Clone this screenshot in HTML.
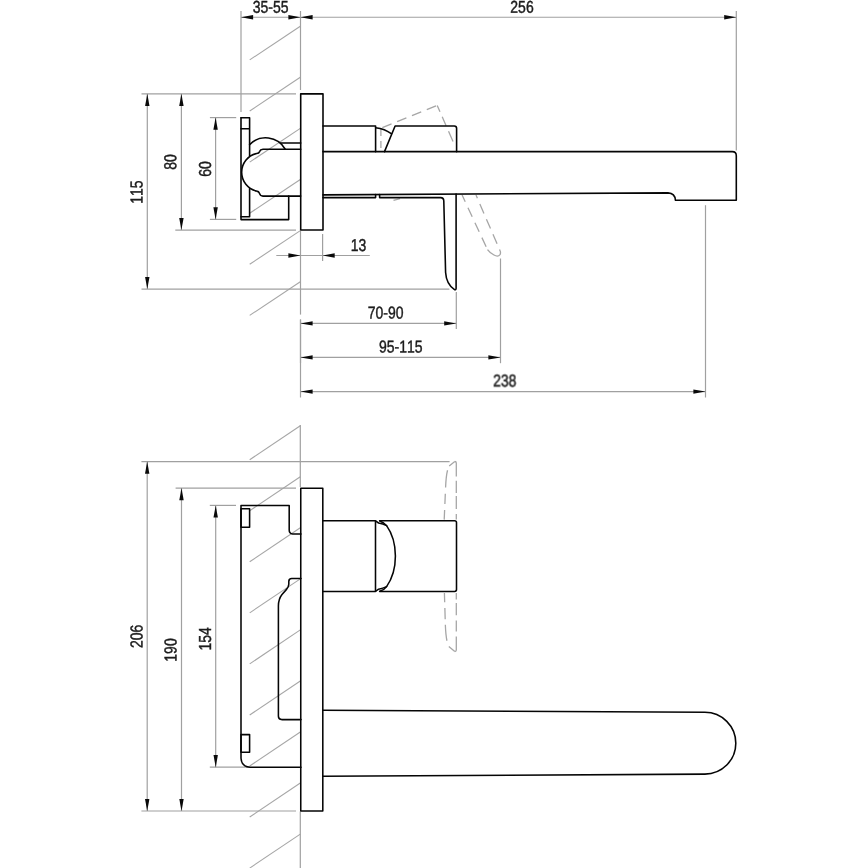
<!DOCTYPE html>
<html lang="en">
<head>
<meta charset="utf-8">
<title>Wall-mounted basin mixer – dimensional drawing</title>
<style>
html,body{margin:0;padding:0;background:#fff;}
body{width:868px;height:868px;overflow:hidden;}
svg{display:block;}
.t{font-family:"Liberation Sans",sans-serif;font-size:17.4px;fill:#1a1a1a;stroke:#1a1a1a;stroke-width:0.45;font-kerning:none;letter-spacing:0;text-rendering:geometricPrecision;}
.th{font-size:17.2px;}
.h{stroke:#a6a6a6;stroke-width:1.1;fill:none;}
.d{stroke:#a0a0a0;stroke-width:1.2;fill:none;}
.ar{fill:#0a0a0a;stroke:none;}
.ds{stroke:#a6a6a6;stroke-width:1.3;fill:none;stroke-dasharray:10 5;}
.main .m{stroke:#050505;stroke-width:1.58;fill:none;stroke-linejoin:round;stroke-linecap:round;}
.main2 .m{stroke:#050505;stroke-width:1.55;fill:none;stroke-linejoin:round;stroke-linecap:round;}
</style>
</head>
<body>
<svg width="868" height="868" viewBox="0 0 868 868" role="img" aria-label="Dimensional drawing of a wall-mounted basin mixer">
<rect x="0" y="0" width="868" height="868" fill="#ffffff"/>
<g class="hatch">
<line class="h" x1="249.7" y1="59.9" x2="300.3" y2="26.2"/>
<line class="h" x1="249.7" y1="111.0" x2="300.3" y2="77.3"/>
<line class="h" x1="249.7" y1="162.1" x2="300.3" y2="128.4"/>
<line class="h" x1="249.7" y1="213.2" x2="300.3" y2="179.5"/>
<line class="h" x1="249.7" y1="264.3" x2="300.3" y2="230.6"/>
<line class="h" x1="249.7" y1="315.4" x2="300.3" y2="281.7"/>
<line class="h" x1="249.7" y1="459.7" x2="300.3" y2="425.7"/>
<line class="h" x1="249.7" y1="510.75" x2="300.3" y2="476.75"/>
<line class="h" x1="249.7" y1="561.8" x2="300.3" y2="527.8"/>
<line class="h" x1="249.7" y1="612.85" x2="300.3" y2="578.85"/>
<line class="h" x1="249.7" y1="663.9" x2="300.3" y2="629.9"/>
<line class="h" x1="249.7" y1="714.95" x2="300.3" y2="680.95"/>
<line class="h" x1="249.7" y1="766.0" x2="300.3" y2="732.0"/>
<line class="h" x1="249.7" y1="817.05" x2="300.3" y2="783.05"/>
<line class="h" x1="249.7" y1="868.1" x2="300.3" y2="834.1"/>
</g>
<g class="dim">
<line class="d" x1="300.5" y1="11" x2="300.5" y2="90"/>
<line class="d" x1="300.5" y1="231" x2="300.5" y2="314.6"/>
<line class="d" x1="300.5" y1="319.5" x2="300.5" y2="397.5"/>
<line class="d" x1="300.5" y1="319.5" x2="300.5" y2="363.2"/>
<line class="d" x1="241" y1="11" x2="241" y2="112"/>
<line class="d" x1="241" y1="17.25" x2="300.5" y2="17.25"/>
<line class="d" x1="300.5" y1="17.25" x2="736.3" y2="17.25"/>
<line class="d" x1="736.3" y1="11" x2="736.3" y2="150.4"/>
<line class="d" x1="141.5" y1="93.8" x2="296" y2="93.8"/>
<line class="d" x1="147.3" y1="93.8" x2="147.3" y2="289.1"/>
<line class="d" x1="181.4" y1="93.8" x2="181.4" y2="230.1"/>
<line class="d" x1="215.6" y1="117.6" x2="215.6" y2="219.4"/>
<line class="d" x1="209.9" y1="117.6" x2="236.2" y2="117.6"/>
<line class="d" x1="209.9" y1="219.4" x2="236.2" y2="219.4"/>
<line class="d" x1="175.3" y1="230.1" x2="296" y2="230.1"/>
<line class="d" x1="141.5" y1="289.1" x2="449.4" y2="289.1"/>
<line class="d" x1="276.3" y1="255.5" x2="369.8" y2="255.5"/>
<line class="d" x1="322.6" y1="234" x2="322.6" y2="261"/>
<line class="d" x1="300.5" y1="323.4" x2="456.3" y2="323.4"/>
<line class="d" x1="456.3" y1="292" x2="456.3" y2="329"/>
<line class="d" x1="300.5" y1="357.4" x2="500.5" y2="357.4"/>
<line class="d" x1="500.5" y1="258.5" x2="500.5" y2="363.2"/>
<line class="d" x1="300.5" y1="391.6" x2="705.5" y2="391.6"/>
<line class="d" x1="705.5" y1="205.2" x2="705.5" y2="397.5"/>
<line class="d" x1="300.3" y1="425" x2="300.3" y2="487"/>
<line class="d" x1="300.3" y1="811.5" x2="300.3" y2="868"/>
<line class="d" x1="141.4" y1="461.55" x2="449.6" y2="461.55"/>
<line class="d" x1="175.6" y1="488.1" x2="296" y2="488.1"/>
<line class="d" x1="209.8" y1="505.4" x2="236" y2="505.4"/>
<line class="d" x1="209.8" y1="767.2" x2="250" y2="767.2"/>
<line class="d" x1="141.4" y1="811" x2="296" y2="811"/>
<line class="d" x1="147.2" y1="461.55" x2="147.2" y2="811"/>
<line class="d" x1="181.5" y1="488.1" x2="181.5" y2="811"/>
<line class="d" x1="215.7" y1="505.4" x2="215.7" y2="767.2"/>
</g>
<g>
<polygon class="ar" points="241.00,17.25 253.10,15.05 253.10,19.45"/>
<polygon class="ar" points="300.50,17.25 288.40,15.05 288.40,19.45"/>
<polygon class="ar" points="300.50,17.25 312.60,15.05 312.60,19.45"/>
<polygon class="ar" points="736.30,17.25 724.20,15.05 724.20,19.45"/>
<polygon class="ar" points="147.30,93.80 145.10,105.90 149.50,105.90"/>
<polygon class="ar" points="147.30,289.10 145.10,277.00 149.50,277.00"/>
<polygon class="ar" points="181.40,93.80 179.20,105.90 183.60,105.90"/>
<polygon class="ar" points="181.40,230.10 179.20,218.00 183.60,218.00"/>
<polygon class="ar" points="215.60,117.60 213.40,129.70 217.80,129.70"/>
<polygon class="ar" points="215.60,219.40 213.40,207.30 217.80,207.30"/>
<polygon class="ar" points="300.50,255.50 288.40,253.30 288.40,257.70"/>
<polygon class="ar" points="322.60,255.50 334.70,253.30 334.70,257.70"/>
<polygon class="ar" points="300.50,323.40 312.60,321.20 312.60,325.60"/>
<polygon class="ar" points="456.30,323.40 444.20,321.20 444.20,325.60"/>
<polygon class="ar" points="300.50,357.40 312.60,355.20 312.60,359.60"/>
<polygon class="ar" points="500.50,357.40 488.40,355.20 488.40,359.60"/>
<polygon class="ar" points="300.50,391.60 312.60,389.40 312.60,393.80"/>
<polygon class="ar" points="705.50,391.60 693.40,389.40 693.40,393.80"/>
<polygon class="ar" points="147.20,461.55 145.00,473.65 149.40,473.65"/>
<polygon class="ar" points="147.20,811.00 145.00,798.90 149.40,798.90"/>
<polygon class="ar" points="181.50,488.10 179.30,500.20 183.70,500.20"/>
<polygon class="ar" points="181.50,811.00 179.30,798.90 183.70,798.90"/>
<polygon class="ar" points="215.70,505.40 213.50,517.50 217.90,517.50"/>
<polygon class="ar" points="215.70,767.20 213.50,755.10 217.90,755.10"/>
</g>
<g class="dash">
<path class="ds" style="stroke-dasharray:10 6" d="M382.3,127.7 L437.2,105.4"/>
<path class="ds" style="stroke-dasharray:7 5.5 9.7 6.1 11.2 6" d="M437.2,105.4 L453.2,142"/>
<path class="ds" style="stroke-dasharray:7 5" d="M380.9,129 V151"/>
<path class="ds" style="stroke-dasharray:10.3 6.2;stroke-dashoffset:6.8" d="M476,195.1 L500.2,251"/>
<path class="ds" style="stroke-dasharray:10 6.5;stroke-dashoffset:2.6" d="M462.1,195.1 L487.5,249.6"/>
<path class="ds" style="stroke-dasharray:none" d="M487.5,249.6 Q490,253 494,255 Q498,257.3 500,254.6 Q500.9,253 500.2,251"/>
<path class="ds" style="stroke-dasharray:none" d="M393.5,200.4 L400,198.6"/>
<path class="ds" style="stroke-dasharray:15.5 4.4 12.1 3.2 12.9 4.9 6.4 20" d="M454.8,461.5 Q456.3,461.5 456.3,463 V519.6"/>
<path class="ds" style="stroke-dasharray:7.1 4.8 17.2 6.4 10.1 6 9.7 20" d="M454.8,461.5 L449.2,465.9 Q446.2,471 445.6,487.3 L444.2,519.6"/>
<path class="ds" style="stroke-dasharray:15.5 5.2 10.9 5.3 12.1 3.6 6.5 20" d="M454.8,651.5 Q456.3,651.5 456.3,650 V592.6"/>
<path class="ds" style="stroke-dasharray:7.8 6.2 15.9 5.6 11.3 5.7 9.3 20" d="M454.8,651.5 L448.8,646.5 Q446,641 445.4,626 L444.4,592.6"/>
</g>
<g class="main">
<path class="m" d="M249.6,144.6 A22.5,22.5 0 0 1 285.1,149"/>
<path class="m" d="M280.7,143 H300.7"/>
<path class="m" d="M241,117.7 H249.6 V156 M249.6,188.6 V216.7 H241 M241,128.7 H249.6"/>
<path class="m" d="M241,117.7 V219.6 H288.7 V196.1"/>
<path class="m" d="M300.7,149.2 H263 Q260.3,149.4 259.6,151.6 Q258.8,153.6 256.6,153.5 A19.3,19.3 0 0 0 256.6,191.1 Q258.8,191.2 259.6,193.6 Q260.3,196 263,196.1 H300.7"/>
<rect class="m" x="300.7" y="93.85" width="22.3" height="136.2"/>
<path class="m" d="M323,126 H375.6 V151.65"/>
<path class="m" d="M323,151.65 H732.3 Q736.3,151.65 736.3,155.65 V200.2 H675.4 Q675,193.3 668,192.9 L323,194.9"/>
<path class="m" d="M384.5,151.65 L395.1,126 H454.3 Q456.6,126 456.6,128.3 V151.65"/>
<path class="m" d="M375.6,127.7 Q385,128.8 391.3,133.7"/>
<path class="m" d="M323,197.6 H375.6 V194.6"/>
<path class="m" d="M379.6,194.5 V197.6 H440.6 Q443.7,197.6 443.8,201 L445.6,272.5 Q446.3,284 454.5,289.7 Q456.2,290 456.1,288 V194"/>
</g>
<g class="main2">
<rect class="m" x="300.75" y="488.15" width="22.05" height="322.85"/>
<path class="m" d="M301,534 H292.6 Q289.2,533.6 289.2,530 V505.4 H241 V758.2 Q241.5,766.7 250,767.2 H301"/>
<rect class="m" x="241" y="508.7" width="8.6" height="18.5"/>
<rect class="m" x="241" y="734.6" width="8.6" height="17.7"/>
<path class="m" d="M301,578.4 H291.8 Q288.8,578.4 288.8,581.4 V584.3 Q288.7,587 286.3,589.6 L282,594.4 Q278.4,599 278.4,606 V716.3 Q278.5,719.4 281.6,719.6 H301"/>
<path class="m" d="M322.8,520.7 H375.5 V591.5 H322.8"/>
<path class="m" d="M379.6,520.7 H454.6 Q456.5,520.7 456.5,522.6 V589.6 Q456.5,591.5 454.6,591.5 H379.6"/>
<path class="m" d="M379.8,520.9 Q384.5,522.6 386.6,525.6 Q395.4,538 395.4,556.1 Q395.4,574.2 386.6,586.6 Q384.5,589.6 379.8,591.3"/>
<path class="m" d="M375.5,520.9 L378.6,523 Q383,523.8 386.6,525.6 M375.5,591.3 L378.6,589.2 Q383,588.4 386.6,586.6"/>
<path class="m" d="M322.8,710.3 L704.9,712.3 A30.9,30.9 0 0 1 704.9,774.1 L322.8,776.3"/>
</g>
<g opacity="0.99">
<text class="t th" transform="translate(270.7 12.7) rotate(0.05) scale(0.8135 1)" text-anchor="middle">35-55</text>
<text class="t th" transform="translate(522 12.7) rotate(0.05) scale(0.8135 1)" text-anchor="middle">256</text>
<text class="t th" transform="translate(358.6 251) rotate(0.05) scale(0.8135 1)" text-anchor="middle">13</text>
<text class="t th" transform="translate(385.6 318.4) rotate(0.05) scale(0.8135 1)" text-anchor="middle">70-90</text>
<text class="t th" transform="translate(400.8 352.4) rotate(0.05) scale(0.8135 1)" text-anchor="middle">95-115</text>
<text class="t th" transform="translate(504.8 386.5) rotate(0.05) scale(0.8135 1)" text-anchor="middle">238</text>
<text class="t" transform="translate(142.5 192.1) rotate(-89.95) scale(0.804 1)" text-anchor="middle">115</text>
<text class="t" transform="translate(176.2 162) rotate(-89.95) scale(0.804 1)" text-anchor="middle">80</text>
<text class="t" transform="translate(211 168.9) rotate(-89.95) scale(0.804 1)" text-anchor="middle">60</text>
<text class="t" transform="translate(142.6 636.35) rotate(-89.95) scale(0.804 1)" text-anchor="middle">206</text>
<text class="t" transform="translate(176.5 650) rotate(-89.95) scale(0.804 1)" text-anchor="middle">190</text>
<text class="t" transform="translate(210.9 638.85) rotate(-89.95) scale(0.804 1)" text-anchor="middle">154</text>
</g>
</svg>
</body>
</html>
